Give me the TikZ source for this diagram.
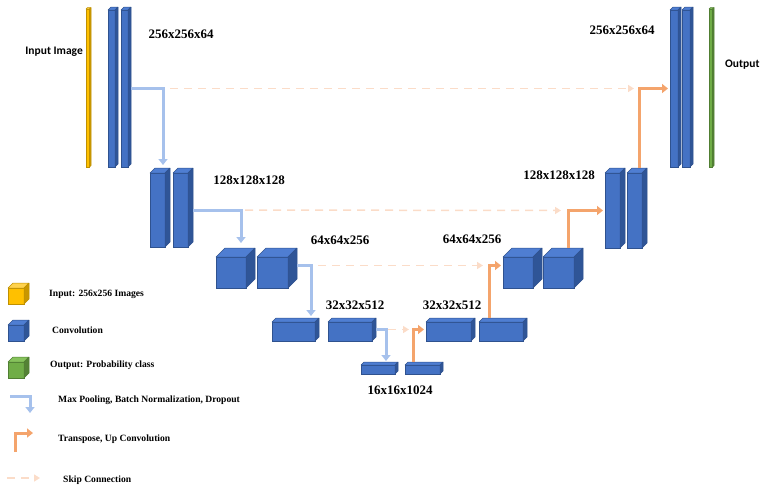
\documentclass[tikz,border=0pt]{standalone}
\usepackage{fontspec}
\setmainfont{Liberation Serif}
\newfontfamily\calibri{Carlito}
\usetikzlibrary{arrows.meta}
\definecolor{blueF}{HTML}{4472C4}
\definecolor{blueT}{HTML}{4F7ED2}
\definecolor{blueS}{HTML}{2F5597}
\definecolor{blueL}{HTML}{2F528F}
\definecolor{yelF}{HTML}{FFC000}
\definecolor{yelT}{HTML}{FFD24D}
\definecolor{yelS}{HTML}{C99700}
\definecolor{yelL}{HTML}{BF9000}
\definecolor{grnF}{HTML}{70AD47}
\definecolor{grnT}{HTML}{86C25C}
\definecolor{grnS}{HTML}{548235}
\definecolor{grnL}{HTML}{507E32}
\definecolor{poolc}{HTML}{A6C1EC}
\definecolor{upc}{HTML}{F4A46C}
\definecolor{skipc}{HTML}{FBDCC8}
% name, x, y (front top left), width, height, depth
\newcommand{\convbox}[7][blue]{%
  \node[draw=#1L,fill=#1F,line width=0.5pt,inner sep=0pt,outer sep=0pt,anchor=north west,
        minimum width=#5pt,minimum height=#6pt] (#2) at (#3,#4) {};
  \filldraw[fill=#1T,draw=#1L,line width=0.5pt,line join=round]
    (#2.north west) -- ++(#7pt,#7pt) -- ++(#5pt,0pt) -- (#2.north east) -- cycle;
  \filldraw[fill=#1S,draw=#1L,line width=0.5pt,line join=round]
    (#2.north east) -- ++(#7pt,#7pt) -- ++(0pt,-#6pt) -- (#2.south east) -- cycle;
}

\begin{document}
\begin{tikzpicture}[x=1pt,y=-1pt,
   pool/.style={draw=poolc,line width=3pt,-{Triangle[width=9pt,length=6pt]}},
   upconv/.style={draw=upc,line width=3pt,-{Triangle[width=9pt,length=6pt]}},
   skip/.style={draw=skipc,line width=1.5pt,dash pattern=on 8pt off 6pt,-{Triangle[width=7pt,length=6pt]}},
   dims/.style={font=\bfseries\fontsize{13}{15}\selectfont,inner sep=0pt},
   legend/.style={font=\bfseries\fontsize{9.6}{11}\selectfont,anchor=west,inner sep=0pt}]
\useasboundingbox (0,0) rectangle (760,488);

% encoder
\convbox[yel]{inp}{86}{9}{3.5}{158}{1.5}
\convbox{E1a}{108}{10}{7}{157}{3}
\convbox{E1b}{121}{10}{7}{157}{3}
\convbox{E2a}{150}{173}{15}{74}{5}
\convbox{E2b}{173}{173}{15}{74}{5}
\convbox{E3a}{216}{257}{30}{31}{9}
\convbox{E3b}{257}{257}{31}{31}{9}
\convbox{E4a}{272}{322}{43}{19}{4}
\convbox{E4b}{328}{322}{44}{19}{4}
% bottleneck
\convbox{B1}{361}{365}{34}{9}{3}
\convbox{B2}{405}{365}{35}{9}{3}
% decoder
\convbox{D4a}{426}{322}{45}{19}{4}
\convbox{D4b}{479}{322}{44}{19}{4}
\convbox{D3a}{503}{257}{30}{31}{9}
\convbox{D3b}{543}{257}{31}{31}{9}
\convbox{D2a}{605}{173}{15}{75}{5}
\convbox{D2b}{627}{173}{15}{75}{5}
\convbox{D1a}{670}{10}{8}{157}{3}
\convbox{D1b}{682}{10}{8}{157}{3}
\convbox[grn]{outp}{709}{9}{3.5}{158}{1.5}

\node[font=\calibri\bfseries\fontsize{11.5}{13}\selectfont,anchor=east,inner sep=0pt] (inlbl) at (83,52) {Input Image};
\node[font=\calibri\bfseries\fontsize{11.5}{13}\selectfont,anchor=west,inner sep=0pt] (outlbl) at (725,65) {Output};

\node[dims] (dE1) at (181,34) {256x256x64};
\node[dims] (dE2) at (249,180) {128x128x128};
\node[dims] (dE3) at (340,240) {64x64x256};
\node[dims] (dE4) at (355,305) {32x32x512};
\node[dims] (dB) at (400,390) {16x16x1024};
\node[dims] (dD4) at (452,305) {32x32x512};
\node[dims] (dD3) at (472,239) {64x64x256};
\node[dims] (dD2) at (559,175) {128x128x128};
\node[dims] (dD1) at (622,30) {256x256x64};

% skip connections
\draw[skip] ([xshift=42pt]E1b.east) -- ([xshift=-36pt]D1a.west);
\draw[skip] ([xshift=57pt]E2b.east) -- ([xshift=-44pt]D2a.west);
\draw[skip] ([xshift=30pt,yshift=7pt]E3b.east) -- ([xshift=-20pt,yshift=7pt]D3a.west);
\draw[skip] ([xshift=16pt,yshift=2pt]E4b.east) -- ([xshift=-17pt,yshift=2pt]D4a.west);

% max pooling
\draw[pool] ([xshift=3pt]E1b.east) -| ([xshift=5.5pt,yshift=8pt]E2a.north);
\draw[pool] ([xshift=5pt]E2b.east) -| ([xshift=10pt,yshift=14pt]E3a.north);
\draw[pool] ([xshift=9pt,yshift=7pt]E3b.east) -| ([xshift=17.5pt,yshift=6pt]E4a.north);
\draw[pool] ([xshift=4pt,yshift=2pt]E4b.east) -| ([xshift=8pt,yshift=4pt]B1.north);

% up convolution
\draw[upconv] ([xshift=-9.5pt,yshift=3pt]B2.north) |- ([xshift=-2pt,yshift=2pt]D4a.west);
\draw[upconv] ([xshift=-12pt,yshift=4pt]D4b.north) |- ([xshift=-2pt,yshift=7pt]D3a.west);
\draw[upconv] ([xshift=9.5pt,yshift=9pt]D3b.north) |- ([xshift=-2pt]D2a.west);
\draw[upconv] ([xshift=4.5pt,yshift=5pt]D2b.north) |- ([xshift=-2pt]D1a.west);

% legend
\convbox[yel]{kin}{8}{288}{16}{16}{5}
\convbox{kconv}{8}{325}{16}{16}{5}
\convbox[grn]{kout}{8}{362}{16}{16}{5}
\coordinate (kp1) at (10,396);
\coordinate (kp2) at (30,413);
\coordinate (ku1) at (15,452);
\coordinate (ku2) at (33,433);
\coordinate (ks1) at (7,478);
\coordinate (ks2) at (40,478);
\draw[pool] (kp1) -| (kp2);
\draw[upconv] (ku1) |- (ku2);
\draw[skip] (ks1) -- (ks2);

\node[legend] (tin) at (49,294) {Input: 256x256 Images};
\node[legend] (tconv) at (52,330) {Convolution};
\node[legend] (tout) at (50,365) {Output: Probability class};
\node[legend] (tpool) at (58,400) {Max Pooling, Batch Normalization, Dropout};
\node[legend] (tup) at (58,439) {Transpose, Up Convolution};
\node[legend] (tskip) at (63,480) {Skip Connection};
\end{tikzpicture}
\end{document}
